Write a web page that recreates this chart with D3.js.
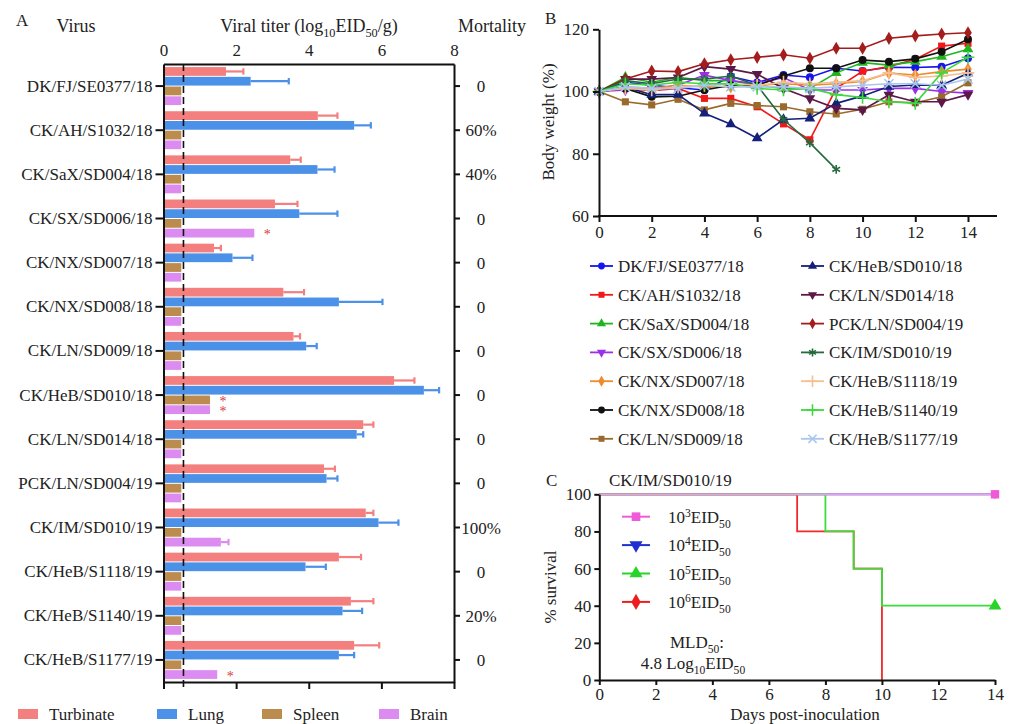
<!DOCTYPE html>
<html><head><meta charset="utf-8">
<script src="https://cdn.jsdelivr.net/npm/d3@7"></script>
<style>
body{margin:0;background:#fff}
svg{display:block}
text{font-family:"Liberation Serif","Times New Roman",serif}
</style>
</head><body>
<svg id="c" width="1019" height="724"></svg>
<script>
// ---------- Panel A data ----------
const viruses = ["DK/FJ/SE0377/18","CK/AH/S1032/18","CK/SaX/SD004/18","CK/SX/SD006/18","CK/NX/SD007/18","CK/NX/SD008/18","CK/LN/SD009/18","CK/HeB/SD010/18","CK/LN/SD014/18","PCK/LN/SD004/19","CK/IM/SD010/19","CK/HeB/S1118/19","CK/HeB/S1140/19","CK/HeB/S1177/19"];
const organs = ["Turbinate","Lung","Spleen","Brain"];
const turbinate    = [1.72,4.25,3.49,3.07,1.39,3.30,3.58,6.35,5.50,4.42,5.57,4.83,5.16,5.25];
const turbinateErr = [2.20,4.79,3.78,3.69,1.58,3.87,3.76,6.91,5.78,4.72,5.78,5.44,5.78,5.94];
const lung         = [2.40,5.25,4.24,3.74,1.90,4.83,3.93,7.17,5.32,4.49,5.92,3.91,4.93,4.83];
const lungErr      = [3.45,5.71,4.71,4.79,2.45,6.03,4.22,7.59,5.50,4.79,6.47,4.47,5.47,5.25];
const spleen       = [0.49,0.49,0.49,0.49,0.49,0.49,0.49,1.28,0.49,0.49,0.49,0.49,0.49,0.49];
const spleenErr    = [null,null,null,null,null,null,null,null,null,null,null,null,null,null];
const brain        = [0.49,0.49,0.49,2.50,0.49,0.49,0.49,1.28,0.49,0.49,1.58,0.49,0.49,1.48];
const brainErr     = [null,null,null,null,null,null,null,null,null,null,1.79,null,null,null];
const mortality    = ["0","60%","40%","0","0","0","0","0","0","0","100%","0","20%","0"];
const significant  = [[3,"Brain"],[7,"Spleen"],[7,"Brain"],[13,"Brain"]];
const detectionLimit = 0.55;
const titerTicks = [0,2,4,6,8];

// ---------- Panel B data ----------
const days = [0,1,2,3,4,5,6,7,8,9,10,11,12,13,14];
const wDKFJ    = [100,103,102,101.2,100.5,104.8,102.9,105.3,104.6,107.5,106.6,107.8,107.7,108,110.7];
const wAH      = [100,101,100.3,101,97.8,97.8,95.1,89.6,84.5,101,106.5,108,110.4,114.6,115.5];
const wSaX     = [100,104.6,103,104.6,103.5,103.5,102,101,101,106,109.3,108.5,109.6,111.2,113.6];
const wSX      = [100,100.5,101,102,105.3,103.5,102.5,104.5,100.5,100.5,100.5,101,101,100,99.5];
const wNX007   = [100,101.5,101,102,101.5,101.5,102,102.5,102,102.5,103.2,105.9,105.3,106.4,107.2];
const wNX008   = [100,101,98.3,98.5,100.5,102,102,105,107.5,107.5,110.1,109.6,110.5,112.8,116.8];
const wLN009   = [100,96.7,95.7,97.5,94.1,96.2,95.5,95.1,93.5,92.8,94.3,96.7,96.4,98.3,102.8];
const wHeB010  = [100,101.5,99,99,93,89.5,85,91,91.4,96.2,98.6,101.6,102.1,102,105.9];
const wLN014   = [100,104,104,104.5,108,107.2,105.6,101,97.8,94.6,94.1,98.9,96.7,96.7,99];
const wPCK     = [100,104,106.6,106.4,108.9,110.2,111,111.8,110.7,113.9,113.9,117.1,117.9,118.5,118.9];
const wIM      = [100,103.5,102.5,104,104,105,102,91,83.5,75];
const wS1118   = [100,101,100.5,101.5,102,102.5,102,103,102.5,103,103.5,106,104.5,105,106];
const wS1140   = [100,102.5,102,103,102.5,102.5,101,100.5,101,99,98.1,96.7,96.2,106,111];
const wS1177   = [100,101.5,101,101,102,101.5,101.5,101.5,101,101.5,102,102.5,102.5,102,104];
const weightSeries = [
  ["DK/FJ/SE0377/18", wDKFJ, "#1515f0", "circle"],
  ["CK/AH/S1032/18", wAH, "#f01818", "square"],
  ["CK/SaX/SD004/18", wSaX, "#1fb51f", "triangle"],
  ["CK/SX/SD006/18", wSX, "#9a30e8", "triangleDown"],
  ["CK/NX/SD007/18", wNX007, "#f08a2a", "diamond"],
  ["CK/NX/SD008/18", wNX008, "#111111", "circle"],
  ["CK/LN/SD009/18", wLN009, "#9a6a2c", "square"],
  ["CK/HeB/SD010/18", wHeB010, "#14207a", "triangle"],
  ["CK/LN/SD014/18", wLN014, "#5c1848", "triangleDown"],
  ["PCK/LN/SD004/19", wPCK, "#a51c1c", "diamond"],
  ["CK/IM/SD010/19", wIM, "#246a3e", "asterisk"],
  ["CK/HeB/S1118/19", wS1118, "#f4bf92", "plus"],
  ["CK/HeB/S1140/19", wS1140, "#3ed83e", "plus"],
  ["CK/HeB/S1177/19", wS1177, "#a9c6ec", "times"]
];
const weightTicksX = [0,2,4,6,8,10,12,14];
const weightTicksY = [60,80,100,120];

// ---------- Panel C data ----------
const surv3 = [[0,100],[14,100]];
const surv4 = [[0,100],[14,100]];
const surv5 = [[0,100],[8,80],[9,60],[10,40],[14,40]];
const surv6 = [[0,100],[7,80],[9,60],[10,0]];
const survTicksX = [0,2,4,6,8,10,12,14];
const survTicksY = [0,20,40,60,80,100];

const svg = d3.select("#c");
const FS = 17;
const TXT = "#222";

function rich(g, x, y, parts, anchor, size) {
  const t = g.append("text").attr("x", x).attr("y", y)
    .attr("text-anchor", anchor || "start").style("font-size", (size||FS)+"px").style("fill",TXT);
  let shift = 0;
  parts.forEach(p => {
    const target = p.sub ? 5 : p.sup ? -6 : 0;
    const ts = t.append("tspan").text(p.t).attr("dy", target - shift);
    if (p.sub || p.sup) ts.style("font-size", ((size||FS)*0.68)+"px");
    shift = target;
  });
  return t;
}
function txt(g, x, y, s, anchor, size) {
  return g.append("text").attr("x",x).attr("y",y).attr("text-anchor",anchor||"start")
    .style("font-size",(size||FS)+"px").style("fill",TXT).text(s);
}
function symType(name) {
  return {circle:d3.symbolCircle, square:d3.symbolSquare, triangle:d3.symbolTriangle,
    triangleDown:d3.symbolTriangle, diamond:d3.symbolDiamond,
    asterisk:d3.symbolAsterisk||d3.symbolCross, plus:d3.symbolPlus||d3.symbolCross,
    times:d3.symbolX||d3.symbolTimes||d3.symbolCross}[name];
}
function isStroke(name){return name==="asterisk"||name==="plus"||name==="times";}
function drawSym(g, name, x, y, color, size) {
  const p = g.append("path").attr("d", d3.symbol().type(symType(name)).size(size)())
    .attr("transform", `translate(${x},${y})` + (name==="triangleDown"?" rotate(180)":""));
  if (isStroke(name)) p.attr("fill","none").attr("stroke",color).attr("stroke-width",1.6);
  else p.attr("fill",color);
  return p;
}
function styleAxis(g){
  g.selectAll("path.domain").attr("stroke","#111").attr("stroke-width",2);
  g.selectAll(".tick line").attr("stroke","#111").attr("stroke-width",2);
  g.selectAll("text").style("font-family",'"Liberation Serif","Times New Roman",serif').style("font-size",FS+"px").style("fill",TXT);
}

// ================= Panel A =================
const A = svg.append("g");
const xA = d3.scaleLinear().domain([0,8]).range([163.5,454]);
const yA = d3.scaleBand().domain(viruses).range([64,682]).paddingInner(0.14).paddingOuter(0.07);
const yO = d3.scaleBand().domain(organs).range([0,yA.bandwidth()]).paddingInner(0.1);
const colA = {Turbinate:"#f47f7f", Lung:"#4b91e8", Spleen:"#bc8b4e", Brain:"#dc8cf0"};
const valA = {Turbinate:turbinate, Lung:lung, Spleen:spleen, Brain:brain};
const errA = {Turbinate:turbinateErr, Lung:lungErr, Spleen:spleenErr, Brain:brainErr};

const barData = [];
viruses.forEach((v,i)=>organs.forEach(o=>barData.push({v,i,o,val:valA[o][i],err:errA[o][i]})));
A.selectAll("rect.bar").data(barData).enter().append("rect")
  .attr("x", xA(0)).attr("y", d=>yA(d.v)+yO(d.o))
  .attr("width", d=>xA(d.val)-xA(0)).attr("height", yO.bandwidth())
  .attr("fill", d=>colA[d.o]);
const errData = barData.filter(d=>d.err!=null);
const cy = d=>yA(d.v)+yO(d.o)+yO.bandwidth()/2;
A.selectAll("line.err").data(errData).enter().append("line")
  .attr("x1", d=>xA(d.val)).attr("x2", d=>xA(d.err)).attr("y1", cy).attr("y2", cy)
  .attr("stroke", d=>colA[d.o]).attr("stroke-width",2.2);
A.selectAll("line.cap").data(errData).enter().append("line")
  .attr("x1", d=>xA(d.err)).attr("x2", d=>xA(d.err))
  .attr("y1", d=>cy(d)-3.2).attr("y2", d=>cy(d)+3.2)
  .attr("stroke", d=>colA[d.o]).attr("stroke-width",2.2);
// significance asterisks
A.selectAll("text.sig").data(significant).enter().append("text")
  .attr("x", d=>xA(valA[d[1]][d[0]])+13)
  .attr("y", d=>yA(viruses[d[0]])+yO(d[1])+yO.bandwidth()/2+6)
  .attr("text-anchor","middle").style("font-size","14px").style("fill","#d83a3a").text("*");
// detection limit
A.append("line").attr("x1",xA(detectionLimit)).attr("x2",xA(detectionLimit))
  .attr("y1",64).attr("y2",688).attr("stroke","#111").attr("stroke-width",1.6).attr("stroke-dasharray","7,4");
// axes
const axL = A.append("g").attr("transform","translate(163.5,0)")
  .call(d3.axisLeft(yA).tickSize(8).tickSizeOuter(0).tickPadding(3)); styleAxis(axL);
const axR = A.append("g").attr("transform","translate(454,0)")
  .call(d3.axisRight(yA).tickSize(6).tickSizeOuter(0).tickFormat("")); styleAxis(axR);
const axT = A.append("g").attr("transform","translate(0,64)")
  .call(d3.axisTop(xA).tickValues(titerTicks).tickSize(0).tickSizeOuter(0).tickPadding(8)); styleAxis(axT);
const axB = A.append("g").attr("transform","translate(0,682)")
  .call(d3.axisBottom(xA).tickValues(titerTicks).tickSize(7).tickSizeOuter(0).tickFormat("")); styleAxis(axB);
// mortality
mortality.forEach((m,i)=>txt(A,481,yA(viruses[i])+yA.bandwidth()/2+6,m,"middle"));
// headers
txt(A,16,26,"A","start",17);
txt(A,76,32,"Virus","middle",18);
rich(A,309,32,[{t:"Viral titer (log"},{t:"10",sub:true},{t:"EID"},{t:"50",sub:true},{t:"/g)"}],"middle",18);
txt(A,492,32,"Mortality","middle",18);
// legend A
const legAx = [18,157,262,379];
organs.forEach((o,i)=>{
  A.append("rect").attr("x",legAx[i]).attr("y",709).attr("width",20).attr("height",10).attr("fill",colA[o]);
  txt(A,legAx[i]+31,720,o);
});

// ================= Panel B =================
const B = svg.append("g");
const xB = d3.scaleLinear().domain([0,14]).range([599,968]);
const yB = d3.scaleLinear().domain([60,120]).range([216,29.3]);
const lineB = d3.line().x((d,i)=>xB(days[i])).y(d=>yB(d));
weightSeries.forEach(s=>{
  B.append("path").datum(s[1]).attr("d",lineB).attr("fill","none").attr("stroke",s[2]).attr("stroke-width",1.6);
  s[1].forEach((v,i)=>drawSym(B,s[3],xB(days[i]),yB(v),s[2],isStroke(s[3])?55:50));
});
const bxAx = B.append("g").attr("transform","translate(0,216)")
  .call(d3.axisBottom(xB).tickValues(weightTicksX).tickSize(6).tickSizeOuter(0).tickPadding(4)); styleAxis(bxAx);
bxAx.select("path.domain").remove();
B.append("line").attr("x1",598).attr("x2",997).attr("y1",216).attr("y2",216).attr("stroke","#111").attr("stroke-width",2);
const byAx = B.append("g").attr("transform","translate(599,0)")
  .call(d3.axisLeft(yB).tickValues(weightTicksY).tickSize(6).tickSizeOuter(0).tickPadding(4)); styleAxis(byAx);
txt(B,545,24,"B","start",17);
B.append("text").attr("transform","translate(554,122) rotate(-90)").attr("text-anchor","middle")
  .style("font-size",FS+"px").style("fill",TXT).text("Body weight (%)");
// legend B
weightSeries.forEach((s,i)=>{
  const col = Math.floor(i/7), row = i%7;
  const lx = col===0?590:801, ly = 266 + row*28.8;
  B.append("line").attr("x1",lx).attr("x2",lx+23).attr("y1",ly).attr("y2",ly).attr("stroke",s[2]).attr("stroke-width",1.8);
  drawSym(B,s[3],lx+11.5,ly,s[2],isStroke(s[3])?45:36);
  txt(B,lx+28,ly+6,s[0]);
});

// ================= Panel C =================
const C = svg.append("g");
const xC = d3.scaleLinear().domain([0,14]).range([599.3,995]);
const yC = d3.scaleLinear().domain([0,100]).range([680,494.3]);
const lineC = d3.line().x(d=>xC(d[0])).y(d=>yC(d[1])).curve(d3.curveStepAfter);
const survSeries = [
  ["4", surv4, "#2030d0", "#2030d0", "triangleDown", 30],
  ["6", surv6, "#ee2a2a", "#ee1c1c", "diamond", 70],
  ["5", surv5, "#3bdc3b", "#28d428", "triangle", 70],
  ["3", surv3, "#e9a0e6", "#f05ad8", "square", 70]
];
survSeries.forEach(s=>{
  C.append("path").datum(s[1]).attr("d",lineC).attr("fill","none").attr("stroke",s[2]).attr("stroke-width",1.8);
  const last = s[1][s[1].length-1];
  if (last[1]>0) drawSym(C,s[4],xC(last[0]),yC(last[1]),s[3],s[5]);
});
const cxAx = C.append("g").attr("transform","translate(0,680)")
  .call(d3.axisBottom(xC).tickValues(survTicksX).tickSize(5).tickSizeOuter(0).tickPadding(3)); styleAxis(cxAx);
const cyAx = C.append("g").attr("transform","translate(599.3,0)")
  .call(d3.axisLeft(yC).tickValues(survTicksY).tickSize(5).tickSizeOuter(0).tickPadding(3)); styleAxis(cyAx);
txt(C,546,486,"C","start",17);
txt(C,609,486,"CK/IM/SD010/19");
C.append("text").attr("transform","translate(556,587) rotate(-90)").attr("text-anchor","middle")
  .style("font-size",FS+"px").style("fill",TXT).text("% survival");
txt(C,805,720,"Days post-inoculation","middle");
// legend C
const legC = [survSeries[3], survSeries[0], survSeries[2], survSeries[1]];
legC.forEach((s,i)=>{
  const ly = 516.7 + i*28.4;
  C.append("line").attr("x1",622).attr("x2",650).attr("y1",ly).attr("y2",ly).attr("stroke",s[3]).attr("stroke-width",2);
  drawSym(C,s[4],636,ly,s[3],75);
  rich(C,668,ly+6,[{t:"10"},{t:s[0],sup:true},{t:"EID"},{t:"50",sub:true}],"start",FS);
});
rich(C,697,648,[{t:"MLD"},{t:"50",sub:true},{t:":"}],"middle",FS);
rich(C,693,669,[{t:"4.8 Log"},{t:"10",sub:true},{t:"EID"},{t:"50",sub:true}],"middle",FS);
</script>
</body></html>
